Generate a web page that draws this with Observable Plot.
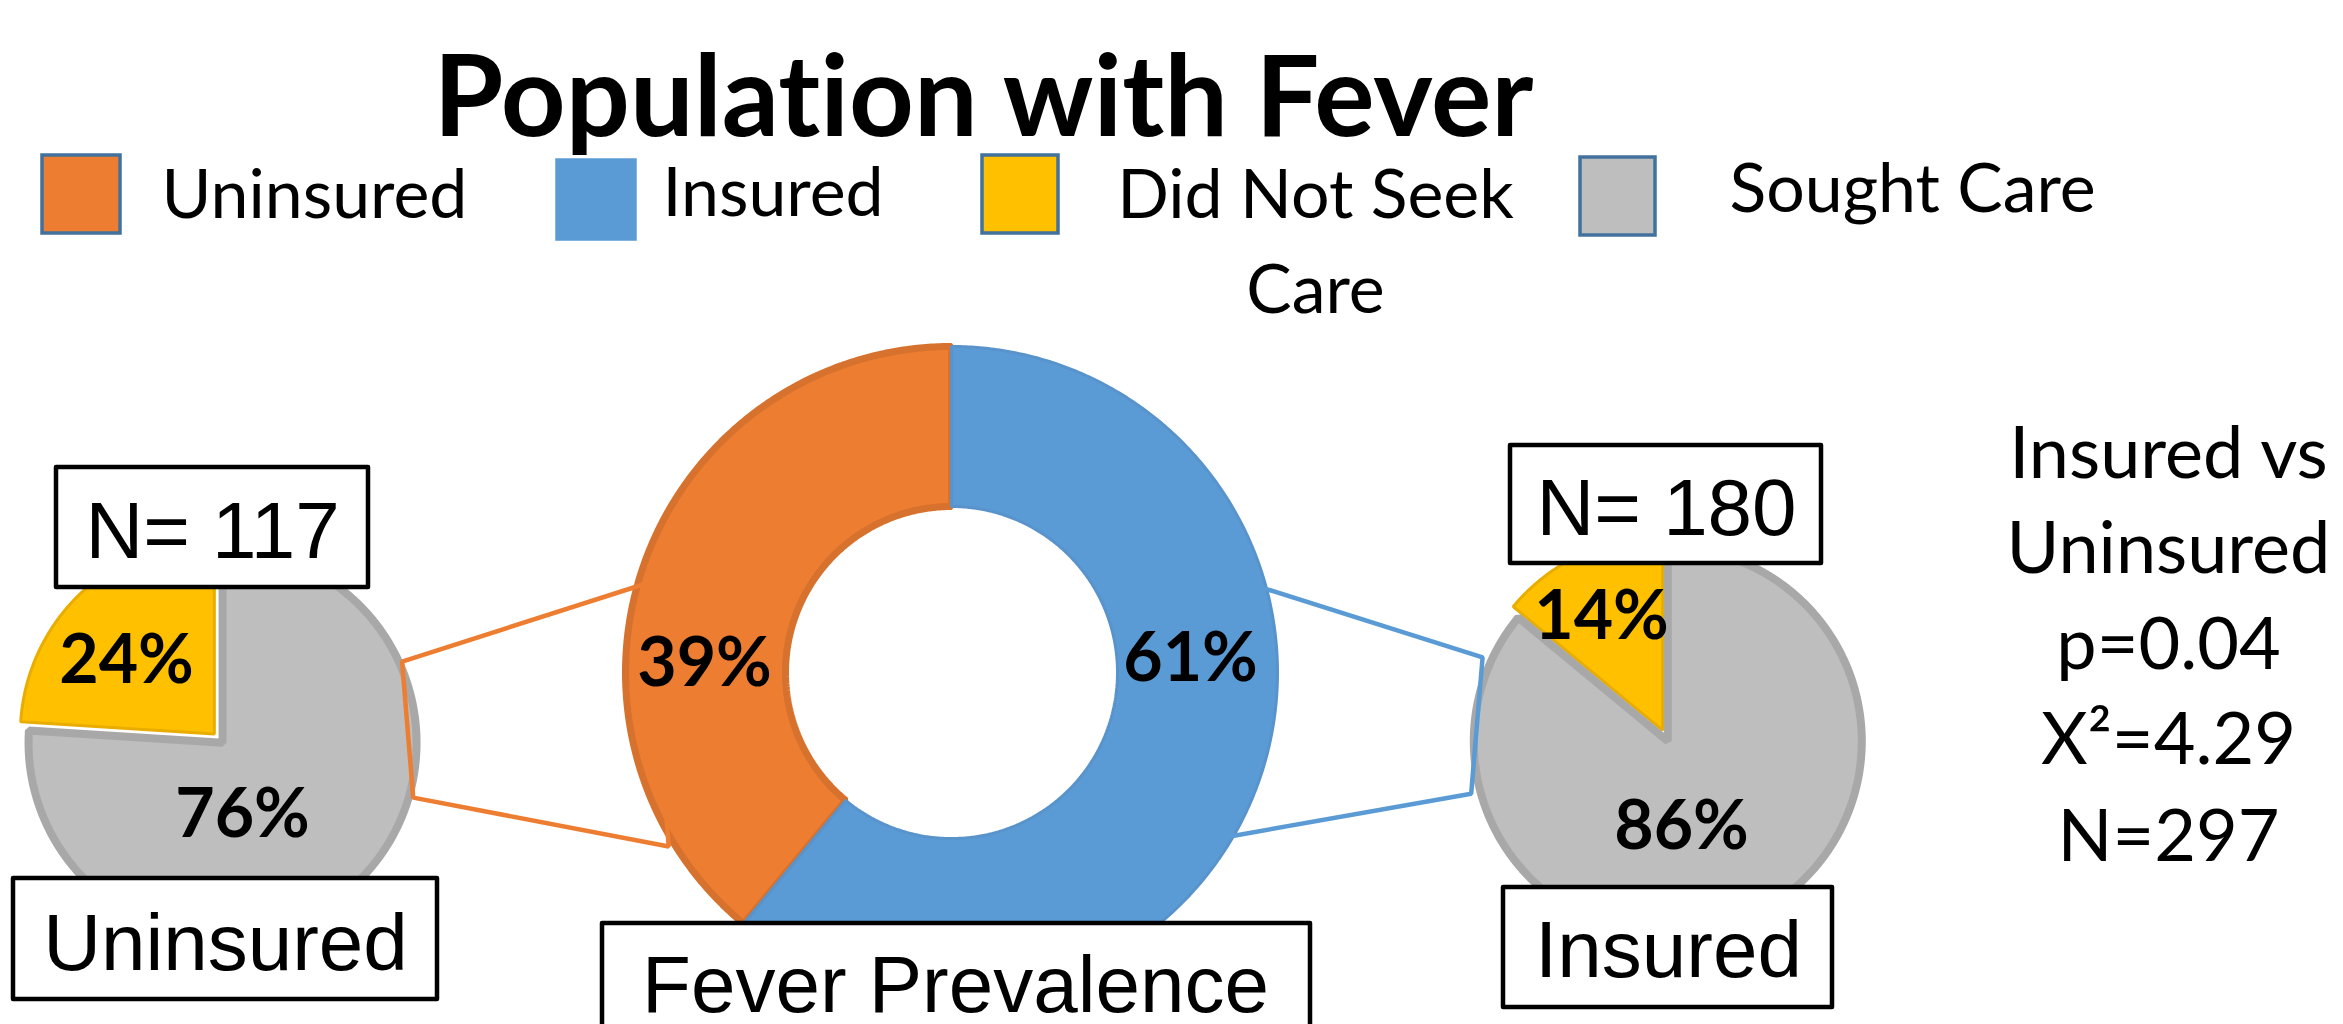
<!DOCTYPE html>
<html>
<head>
<meta charset="utf-8">
<script src="https://cdn.jsdelivr.net/npm/d3@7"></script>
<script src="https://cdn.jsdelivr.net/npm/@observablehq/plot@0.6"></script>
<style>
  html, body { margin: 0; padding: 0; background: #ffffff; }
  #chart svg { display: block; }
  #chart svg text { font-variant-ligatures: none; font-feature-settings: "liga" 0, "clig" 0; }
</style>
</head>
<body>
<div id="chart"></div>
<script>
// ---------------- DATA ----------------
const titleText = "Population with Fever";
const categories = ["Uninsured", "Insured", "Did Not Seek Care", "Sought Care"];
const legendLabels = [["Uninsured"], ["Insured"], ["Did Not Seek", "Care"], ["Sought Care"]];
const categoryColors = ["#ED7D31", "#5B9BD5", "#FFC000", "#BEBEBE"];

const prevalenceGroups = ["Uninsured", "Insured"];
const prevalenceValues = [39, 61];

const careGroups = ["Did Not Seek Care", "Sought Care"];
const uninsuredCareValues = [24, 76];
const insuredCareValues = [14, 86];

const sampleSizes = [117, 180];            // Uninsured, Insured
const panelNames = ["Uninsured", "Fever Prevalence", "Insured"];
const statsLines = ["Insured vs", "Uninsured", "p=0.04", "X\u00B2=4.29", "N=297"];

// ---------------- LAYOUT (positions & styles) ----------------
const W = 2343, H = 1024;
const strokeFor = {
  "Uninsured": "#D6722D", "Insured": "#5893CB",
  "Did Not Seek Care": "#E8AD00", "Sought Care": "#A8A8A8"
};
const strokeWidthFor = {
  "Uninsured": 7, "Insured": 3, "Did Not Seek Care": 3, "Sought Care": 8
};
const geom = {
  donut: {cx: 951, cy: 672, r: 326, r0: 166, explode: [0, 0]},
  left:  {cx: 220, cy: 740, r: 194, r0: 0, explode: [9, 3]},
  right: {cx: 1666, cy: 738, r: 194, r0: 0, explode: [9, 3]}
};
// connectors: [which geometry, angle (deg clockwise from top), radius]
const connectorSpecs = [
  {color: "#ED7D31", pts: [["donut", 286.5, 316], ["left", 66.5, 198], ["left", 106.5, 201], ["donut", 238.4, 332]]},
  {color: "#5B9BD5", pts: [["donut", 73.3, 310], ["right", 293.8, 201], ["right", 254.2, 203], ["donut", 120.5, 323]]}
];
const pctPos = {
  donut: [[704, 685], [1190, 680]],
  left:  [[126, 682], [242, 836]],
  right: [[1601, 638], [1681, 848]]
};
const nBoxes = [
  {x1: 56, x2: 368, y1: 467, y2: 587, tx: 212, ty: 557},
  {x1: 1510, x2: 1821, y1: 445, y2: 563, tx: 1666, ty: 534}
];
const nameBoxes = [
  {x1: 13, x2: 437, y1: 878, y2: 999, tx: 225, ty: 969},
  {x1: 602, x2: 1310, y1: 923, y2: 1045, tx: 955, ty: 1011},
  {x1: 1503, x2: 1832, y1: 887, y2: 1007, tx: 1668, ty: 976}
];
const legendLayout = [
  {x1: 42, x2: 120, y1: 155, y2: 233, tx: 161, ty: [217], anchor: "start", stroke: "#41719C"},
  {x1: 557, x2: 635, y1: 160, y2: 239, tx: 662, ty: [215], anchor: "start", stroke: "#5B9BD5"},
  {x1: 982, x2: 1058, y1: 155, y2: 233, tx: 1315, ty: [217, 312], anchor: "middle", stroke: "#41719C"},
  {x1: 1580, x2: 1655, y1: 157, y2: 235, tx: 1729, ty: [211], anchor: "start", stroke: "#41719C"}
];
const statsX = 2168, statsBaselines = [477, 572, 668, 763, 860];

// ---------------- GEOMETRY HELPERS ----------------
function polar(cx, cy, r, deg) {
  const t = deg * Math.PI / 180;
  return [cx + r * Math.sin(t), cy - r * Math.cos(t)];
}
// first item goes counter-clockwise from 12 o'clock, the rest follow
function ringSlices(cats, values, g) {
  const total = d3.sum(values);
  let a = 0;
  return cats.map((c, i) => {
    const a0 = a, a1 = a - values[i] / total * 360;
    a = a1;
    const mid = (a0 + a1) / 2;
    const [ox, oy] = polar(0, 0, g.explode[i] || 0, mid);
    const cx = g.cx + ox, cy = g.cy + oy;
    const n = Math.max(4, Math.ceil(Math.abs(a1 - a0) / 0.5));
    const pts = [];
    for (let k = 0; k <= n; k++) {
      const [x, y] = polar(cx, cy, g.r, a0 + (a1 - a0) * k / n);
      pts.push({x, y, cat: c});
    }
    if (g.r0 > 0) {
      for (let k = n; k >= 0; k--) {
        const [x, y] = polar(cx, cy, g.r0, a0 + (a1 - a0) * k / n);
        pts.push({x, y, cat: c});
      }
    } else {
      pts.push({x: cx, y: cy, cat: c});
    }
    return {cat: c, value: values[i], pts};
  });
}

const donutSlices = ringSlices(prevalenceGroups, prevalenceValues, geom.donut);
const leftSlices = ringSlices(careGroups, uninsuredCareValues, geom.left);
const rightSlices = ringSlices(careGroups, insuredCareValues, geom.right);

function sliceMarks(slices) {
  return slices.map(s => Plot.line(s.pts, {
    x: "x", y: "y", fill: "cat", curve: "linear-closed",
    stroke: strokeFor[s.cat], strokeWidth: strokeWidthFor[s.cat], strokeLinejoin: "miter"
  }));
}

const connectorMarks = connectorSpecs.map(spec => {
  const pts = spec.pts.map(([gname, ang, r]) => {
    const g = geom[gname];
    const [x, y] = polar(g.cx, g.cy, r, ang);
    return {x, y};
  });
  return Plot.line(pts, {x: "x", y: "y", curve: "linear-closed", fill: "none",
    stroke: spec.color, strokeWidth: 4.5, strokeLinejoin: "miter"});
});

function pctLabels(values, pos) {
  return values.map((v, i) => ({text: `${v}%`, x: pos[i][0], y: pos[i][1]}));
}
const pctData = [
  ...pctLabels(prevalenceValues, pctPos.donut),
  ...pctLabels(uninsuredCareValues, pctPos.left),
  ...pctLabels(insuredCareValues, pctPos.right)
];

const nData = sampleSizes.map((n, i) => ({...nBoxes[i], text: `N= ${n}`}));
const nameData = panelNames.map((t, i) => ({...nameBoxes[i], text: t}));
const legendData = categories.map((c, i) => ({...legendLayout[i], cat: c}));
const legendTextData = legendData.flatMap((d, i) =>
  legendLabels[i].map((line, j) => ({text: line, x: d.tx, y: d.ty[j], anchor: d.anchor})));
const statsData = statsLines.map((t, i) => ({text: t, x: statsX, y: statsBaselines[i]}));

const calibri = "Lato, Carlito, Calibri, 'Noto Sans', sans-serif";
const arial = "'Liberation Sans', Arial, sans-serif";

const chart = Plot.plot({
  width: W, height: H, margin: 0,
  x: {domain: [0, W], range: [0, W], axis: null},
  y: {domain: [0, H], range: [0, H], axis: null},
  color: {domain: categories, range: categoryColors},
  style: {background: "#ffffff", overflow: "hidden"},
  marks: [
    ...sliceMarks(donutSlices),
    ...sliceMarks(leftSlices),
    ...sliceMarks(rightSlices),
    ...connectorMarks,
    // boxes
    Plot.rect([...nData, ...nameData], {x1: "x1", x2: "x2", y1: "y1", y2: "y2",
      fill: "white", stroke: "black", strokeWidth: 4.5, strokeLinejoin: "round"}),
    Plot.text([...nData, ...nameData], {x: "tx", y: "ty", text: "text", textAnchor: "middle",
      lineAnchor: "bottom", fontFamily: arial, fontSize: 80, fill: "black"}),
    // percent labels
    Plot.text(pctData, {x: "x", y: "y", text: "text", textAnchor: "middle", lineAnchor: "bottom",
      fontFamily: calibri, fontWeight: "bold", fontSize: 68, fill: "black"}),
    // title
    Plot.text([titleText], {x: () => 983, y: () => 135, text: d => d, textAnchor: "middle",
      lineAnchor: "bottom", fontFamily: calibri, fontWeight: "bold", fontSize: 113, fill: "black"}),
    // legend
    ...legendData.map(d => Plot.rect([d], {x1: "x1", x2: "x2", y1: "y1", y2: "y2",
      fill: "cat", stroke: d.stroke, strokeWidth: 3.5})),
    Plot.text(legendTextData.filter(d => d.anchor === "start"), {x: "x", y: "y", text: "text",
      textAnchor: "start", lineAnchor: "bottom", fontFamily: calibri, fontSize: 68, fill: "black"}),
    Plot.text(legendTextData.filter(d => d.anchor === "middle"), {x: "x", y: "y", text: "text",
      textAnchor: "middle", lineAnchor: "bottom", fontFamily: calibri, fontSize: 68, fill: "black"}),
    // statistics
    Plot.text(statsData, {x: "x", y: "y", text: "text", textAnchor: "middle", lineAnchor: "bottom",
      fontFamily: calibri, fontSize: 72, fill: "black"})
  ]
});
document.getElementById("chart").appendChild(chart);
</script>
</body>
</html>
